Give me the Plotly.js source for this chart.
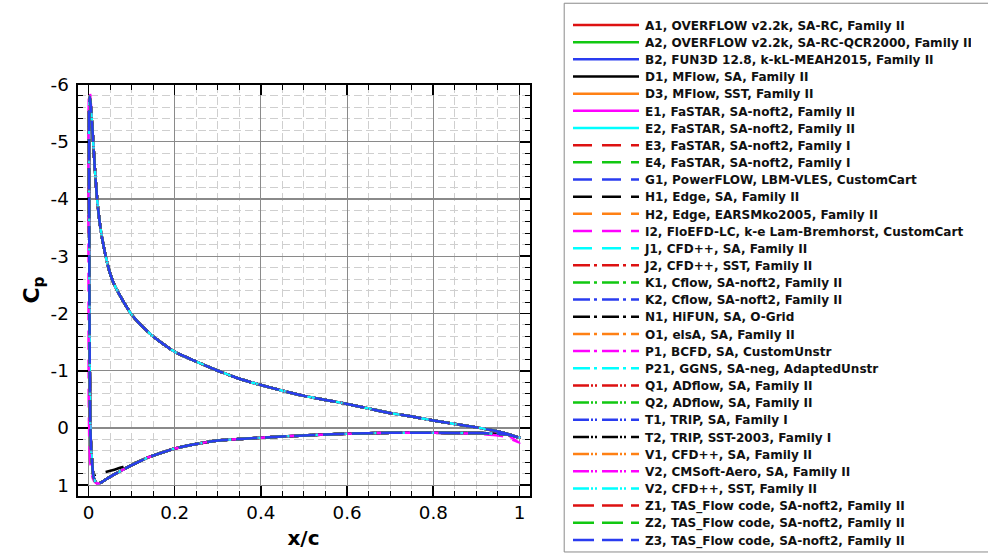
<!DOCTYPE html>
<html><head><meta charset="utf-8">
<script src="https://cdn.plot.ly/plotly-3.0.1.min.js"></script>
<style>
html,body{margin:0;padding:0;overflow:hidden;background:#fff;width:988px;height:554px;}
#wrap{width:988px;height:554px;overflow:hidden;position:relative;}
#chart{position:absolute;left:0;top:0;transform:scale(0.5);transform-origin:0 0;}
#chart .legendtext{transform:translate(7px,0);}
</style></head><body><div id="wrap"><div id="chart"></div></div>
<script>
// ---------------- data ----------------
const seriesNames = [
  "A1, OVERFLOW v2.2k, SA-RC, Family II",
  "A2, OVERFLOW v2.2k, SA-RC-QCR2000, Family II",
  "B2, FUN3D 12.8, k-kL-MEAH2015, Family II",
  "D1, MFlow, SA, Family II",
  "D3, MFlow, SST, Family II",
  "E1, FaSTAR, SA-noft2, Family II",
  "E2, FaSTAR, SA-noft2, Family II",
  "E3, FaSTAR, SA-noft2, Family I",
  "E4, FaSTAR, SA-noft2, Family I",
  "G1, PowerFLOW, LBM-VLES, CustomCart",
  "H1, Edge, SA, Family II",
  "H2, Edge, EARSMko2005, Family II",
  "I2, FloEFD-LC, k-e Lam-Bremhorst, CustomCart",
  "J1, CFD++, SA, Family II",
  "J2, CFD++, SST, Family II",
  "K1, Cflow, SA-noft2, Family II",
  "K2, Cflow, SA-noft2, Family II",
  "N1, HiFUN, SA, O-Grid",
  "O1, elsA, SA, Family II",
  "P1, BCFD, SA, CustomUnstr",
  "P21, GGNS, SA-neg, AdaptedUnstr",
  "Q1, ADflow, SA, Family II",
  "Q2, ADflow, SA, Family II",
  "T1, TRIP, SA, Family I",
  "T2, TRIP, SST-2003, Family I",
  "V1, CFD++, SA, Family II",
  "V2, CMSoft-Aero, SA, Family II",
  "V2, CFD++, SST, Family II",
  "Z1, TAS_Flow code, SA-noft2, Family II",
  "Z2, TAS_Flow code, SA-noft2, Family II",
  "Z3, TAS_Flow code, SA-noft2, Family II"
];

// upper surface, trailing edge -> leading edge
const xUpper  = [1.0, 0.97, 0.95, 0.9, 0.85, 0.8, 0.75, 0.7, 0.65, 0.6, 0.55, 0.5, 0.45, 0.4, 0.35, 0.3, 0.25, 0.2, 0.15, 0.12, 0.1, 0.08, 0.06, 0.05, 0.04, 0.03, 0.025, 0.02, 0.015, 0.011, 0.008, 0.005, 0.003];
const cpUpper = [0.17, 0.10, 0.06, -0.01, -0.07, -0.13, -0.20, -0.26, -0.34, -0.42, -0.49, -0.56, -0.65, -0.75, -0.86, -1.0, -1.16, -1.33, -1.60, -1.81, -1.98, -2.22, -2.50, -2.70, -3.0, -3.38, -3.65, -4.0, -4.5, -5.0, -5.35, -5.65, -5.78];
const cpUpperI2 = [0.26, 0.12, 0.07, -0.01, -0.07, -0.13, -0.20, -0.26, -0.34, -0.42, -0.49, -0.56, -0.65, -0.75, -0.86, -1.0, -1.16, -1.33, -1.60, -1.81, -1.98, -2.22, -2.50, -2.70, -3.0, -3.38, -3.65, -4.0, -4.5, -5.0, -5.4, -5.72, -5.88];

// lower surface, leading edge -> trailing edge
const xLower  = [0.0015, 0.0015, 0.002, 0.003, 0.004, 0.006, 0.008, 0.010, 0.012, 0.016, 0.022, 0.03, 0.04, 0.06, 0.08, 0.1, 0.14, 0.2, 0.25, 0.3, 0.4, 0.5, 0.6, 0.7, 0.8, 0.9, 0.95, 0.97, 1.0];
const cpLower = [-5.5, -4.0, -2.5, -1.0, -0.1, 0.35, 0.56, 0.75, 0.86, 0.94, 0.97, 0.95, 0.90, 0.81, 0.73, 0.65, 0.51, 0.36, 0.28, 0.22, 0.17, 0.13, 0.10, 0.085, 0.085, 0.09, 0.10, 0.11, 0.17];
const xLowerI2  = [0.001, 0.0, 0.0, 0.0005, 0.002, 0.004, 0.007, 0.010, 0.014, 0.02, 0.03, 0.04, 0.06, 0.08, 0.1, 0.14, 0.2, 0.25, 0.3, 0.4, 0.5, 0.6, 0.7, 0.8, 0.9, 0.95, 0.97, 1.0];
const cpLowerI2 = [-5.8, -4.5, -2.5, -0.5, 0.3, 0.6, 0.78, 0.88, 0.94, 0.97, 0.95, 0.90, 0.81, 0.73, 0.65, 0.51, 0.36, 0.28, 0.22, 0.17, 0.13, 0.10, 0.085, 0.085, 0.10, 0.13, 0.16, 0.26];
const xLowerH1  = [0.0015, 0.0015, 0.002, 0.003, 0.004, 0.006, 0.008, 0.010, 0.012, 0.016, 0.022, 0.028, 0.04, 0.06, 0.08, 0.1, 0.14, 0.2, 0.25, 0.3, 0.4, 0.5, 0.6, 0.7, 0.8, 0.9, 0.95, 0.97, 1.0];
const cpLowerH1 = [-5.5, -4.0, -2.5, -1.0, -0.1, 0.35, 0.56, 0.74, 0.82, 0.82, 0.80, 0.79, 0.77, 0.73, 0.68, 0.63, 0.51, 0.36, 0.28, 0.22, 0.17, 0.13, 0.10, 0.085, 0.085, 0.09, 0.10, 0.11, 0.17];

const xTickVals = [0, 0.2, 0.4, 0.6, 0.8, 1];
const xTickText = ["0", "0.2", "0.4", "0.6", "0.8", "1"];
const yTickVals = [-6, -5, -4, -3, -2, -1, 0, 1];
const yTickText = ["-6", "-5", "-4", "-3", "-2", "-1", "0", "1"];

// ---------------- styling ----------------
const K = 2;               // page drawn at 2x then scaled by 0.5
const W = 988, H = 554;
const plotL = 77.3, plotR = 529.3, plotT = 84.3, plotB = 495.5;
const colorCycle = ['#dd1111', '#11c811', '#2a3cf0', '#000000', '#ff8014', '#ff00ff', '#00ffff'];
const dashPatterns = [null, [19, 10], [17, 4, 3, 5], [16, 2, 2, 2, 2, 5], [21, 8]];
function dashFor(i) {
  const g = Math.min(Math.floor(i / 7), 4);
  const p = dashPatterns[g];
  return p ? p.map(v => (v * K) + 'px').join(',') : 'solid';
}
function dataFor(i) {
  const name = seriesNames[i];
  if (name.startsWith('I2')) return {x: xUpper.concat(xLowerI2), y: cpUpperI2.concat(cpLowerI2)};
  if (name.startsWith('H1')) return {x: xUpper.concat(xLowerH1), y: cpUpper.concat(cpLowerH1)};
  return {x: xUpper.concat(xLower), y: cpUpper.concat(cpLower)};
}

const traces = seriesNames.map((name, i) => {
  const d = dataFor(i);
  return {
    type: 'scatter', mode: 'lines', name: name, x: d.x, y: d.y,
    line: {color: colorCycle[i % 7], width: 2.5 * K, dash: dashFor(i), shape: 'spline', smoothing: 0.5},
    hoverinfo: 'skip'
  };
});

const pw = plotR - plotL, ph = plotB - plotT;
const layout = {
  width: W * K, height: H * K,
  margin: {l: plotL * K, r: (W - plotR) * K, t: plotT * K, b: (H - plotB) * K, pad: 0, autoexpand: false},
  paper_bgcolor: '#ffffff', plot_bgcolor: '#ffffff',
  font: {family: 'DejaVu Sans', size: 18.3 * K, color: '#000'},
  showlegend: true,
  legend: {
    xref: 'container', yref: 'container',
    x: 570.5 / W, y: 1 - 13.9 / H, xanchor: 'left', yanchor: 'top',
    bgcolor: 'rgba(0,0,0,0)', borderwidth: 0, maxheight: H * K,
    itemwidth: 66 * K, tracegroupgap: 0,
    font: {family: 'DejaVu Sans', size: 12.05 * K, weight: 'bold', color: '#111'}
  },
  xaxis: {
    range: [-0.0255, 1.0232], tickmode: 'array', tickvals: xTickVals, ticktext: xTickText,
    showline: true, linecolor: '#000', linewidth: 2 * K, mirror: 'allticks',
    ticks: 'inside', ticklen: 10 * K, tickwidth: 1.6 * K, tickcolor: '#000',
    showgrid: true, gridcolor: '#8a8a8a', gridwidth: 1.1 * K, zeroline: false,
    tickfont: {size: 18.3 * K},
    minor: {tickmode: 'linear', tick0: 0, dtick: 0.05, ticks: 'inside', ticklen: 5 * K, tickwidth: 1 * K,
            tickcolor: '#000', showgrid: true, gridcolor: '#cfcfcf', gridwidth: 1 * K, griddash: (8 * K) + 'px,' + (4 * K) + 'px'},
    title: {text: 'x/c', font: {size: 20 * K, weight: 'bold'}, standoff: 8 * K}
  },
  yaxis: {
    range: [1.18, -6.0], tickmode: 'array', tickvals: yTickVals, ticktext: yTickText,
    showline: true, linecolor: '#000', linewidth: 2 * K, mirror: 'allticks',
    ticks: 'inside', ticklen: 10 * K, tickwidth: 1.6 * K, tickcolor: '#000',
    showgrid: true, gridcolor: '#8a8a8a', gridwidth: 1.1 * K, zeroline: false,
    tickfont: {size: 18.3 * K}, ticklabelstandoff: 3 * K,
    minor: {tickmode: 'linear', tick0: 0, dtick: 0.2, ticks: 'inside', ticklen: 5 * K, tickwidth: 1 * K,
            tickcolor: '#000', showgrid: true, gridcolor: '#cfcfcf', gridwidth: 1 * K, griddash: (8 * K) + 'px,' + (4 * K) + 'px'},
    title: {text: 'C<sub>p</sub>', font: {size: 22 * K, weight: 'bold'}, standoff: 5 * K}
  },
  shapes: [{
    type: 'rect', xref: 'paper', yref: 'paper', layer: 'below',
    x0: (564 - plotL) / pw, x1: (1010 - plotL) / pw,
    y0: (plotB - 552) / ph, y1: (plotB - 3) / ph,
    line: {color: '#8a8a8a', width: 1 * K}, fillcolor: 'rgba(0,0,0,0)'
  }]
};

Plotly.newPlot('chart', traces, layout, {staticPlot: true, displayModeBar: false});
</script></body></html>
